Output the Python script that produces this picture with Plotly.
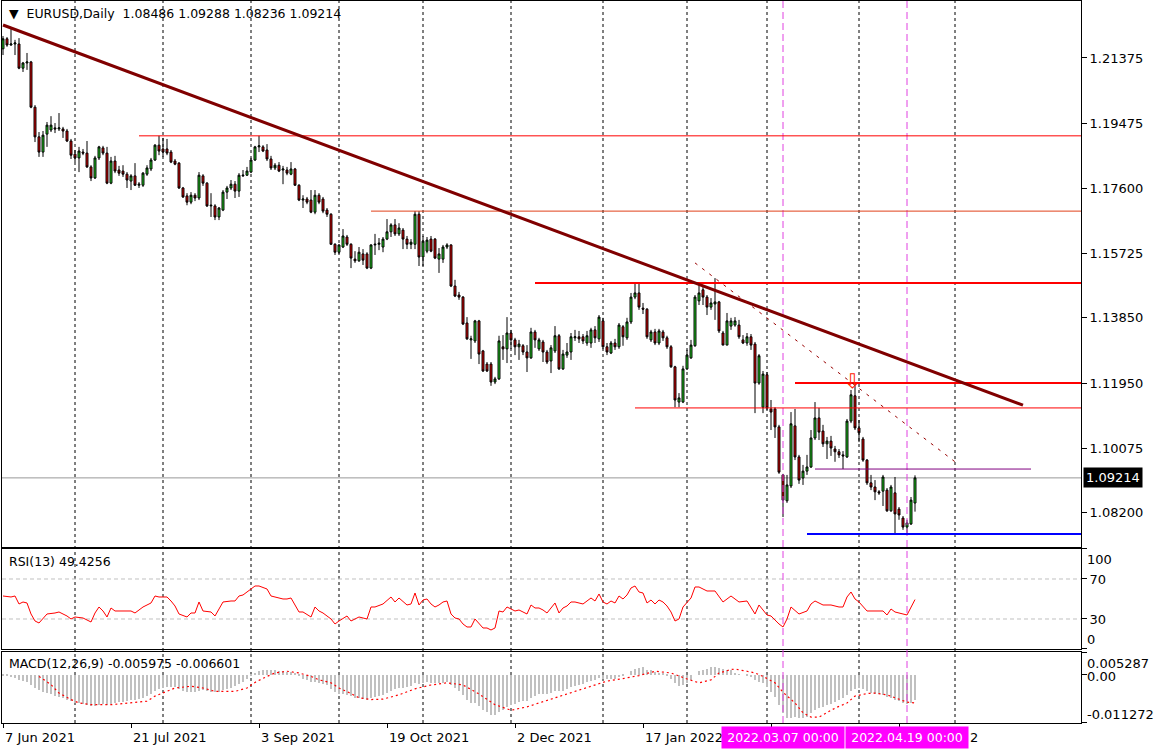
import plotly.graph_objects as go
import pandas as pd

# ---------------- price data (EURUSD daily, bar 0 = 7 Jun 2021) ----------------
open_ = [
1.2164,1.2193,1.2175,1.2178,1.2178,1.2108,1.2123,1.2126,1.1995,1.1909,
1.1865,1.1917,1.1929,1.1935,1.1932,1.1932,1.1926,1.1897,1.1859,1.1848,
1.1865,1.1862,1.1822,1.1790,1.1848,1.1877,1.1862,1.1775,1.1839,1.1813,
1.1810,1.1801,1.1781,1.1796,1.1769,1.1769,1.1801,1.1816,1.1842,1.1885,
1.1874,1.1874,1.1865,1.1839,1.1833,1.1761,1.1738,1.1720,1.1740,1.1732,
1.1796,1.1775,1.1709,1.1709,1.1677,1.1697,1.1749,1.1761,1.1772,1.1752,
1.1796,1.1798,1.1807,1.1842,1.1880,1.1880,1.1871,1.1845,1.1819,1.1827,
1.1813,1.1813,1.1801,1.1816,1.1769,1.1726,1.1729,1.1726,1.1691,1.1740,
1.1729,1.1697,1.1685,1.1598,1.1575,1.1590,1.1619,1.1598,1.1555,1.1550,
1.1570,1.1570,1.1529,1.1596,1.1598,1.1590,1.1613,1.1634,1.1654,1.1628,
1.1639,1.1613,1.1598,1.1598,1.1685,1.1561,1.1578,1.1613,1.1613,1.1555,
1.1555,1.1590,1.1596,1.1477,1.1451,1.1445,1.1370,1.1321,1.1318,1.1376,
1.1289,1.1251,1.1251,1.1199,1.1208,1.1301,1.1295,1.1341,1.1321,1.1301,
1.1304,1.1286,1.1269,1.1344,1.1295,1.1315,1.1286,1.1260,1.1289,1.1333,
1.1237,1.1277,1.1286,1.1327,1.1330,1.1330,1.1312,1.1312,1.1350,1.1324,
1.1376,1.1301,1.1283,1.1312,1.1301,1.1359,1.1327,1.1373,1.1445,1.1457,
1.1413,1.1410,1.1321,1.1344,1.1312,1.1344,1.1327,1.1301,1.1243,1.1141,
1.1141,1.1237,1.1269,1.1304,1.1434,1.1466,1.1445,1.1416,1.1425,1.1431,
1.1341,1.1306,1.1361,1.1364,1.1364,1.1321,1.1312,1.1330,1.1309,1.1196,
1.1126,1.1220,1.1121,1.1121,1.1069,1.0930,1.0855,1.0898,1.1072,1.0982,
1.0921,1.0941,1.0953,1.1037,1.1095,1.1057,1.1020,1.1028,1.1005,1.0997,
1.0988,1.0982,1.1086,1.1159,1.1066,1.1034,1.0973,1.0907,1.0895,1.0881,
1.0883,1.0886,1.0826,1.0878,1.0831,1.0805,1.0779,1.0788,1.08486]

high_ = [
1.2201,1.2198,1.2221,1.2190,1.2195,1.2126,1.2152,1.2129,1.2001,1.1923,
1.1926,1.1952,1.1969,1.1949,1.1978,1.1938,1.1932,1.1903,1.1871,1.1880,
1.1874,1.1897,1.1827,1.1854,1.1883,1.1883,1.1880,1.1851,1.1854,1.1825,
1.1827,1.1807,1.1801,1.1833,1.1778,1.1807,1.1827,1.1848,1.1888,1.1912,
1.1906,1.1903,1.1871,1.1845,1.1836,1.1764,1.1746,1.1749,1.1746,1.1807,
1.1801,1.1778,1.1746,1.1714,1.1706,1.1755,1.1767,1.1784,1.1781,1.1804,
1.1813,1.1822,1.1848,1.1883,1.1912,1.1885,1.1888,1.1854,1.1833,1.1836,
1.1825,1.1822,1.1836,1.1819,1.1772,1.1740,1.1735,1.1755,1.1755,1.1746,
1.1735,1.1703,1.1688,1.1601,1.1598,1.1642,1.1625,1.1601,1.1578,1.1590,
1.1584,1.1575,1.1598,1.1628,1.1616,1.1619,1.1671,1.1659,1.1671,1.1659,
1.1645,1.1622,1.1613,1.1694,1.1694,1.1622,1.1619,1.1622,1.1616,1.1587,
1.1596,1.1601,1.1598,1.1495,1.1460,1.1448,1.1387,1.1333,1.1379,1.1379,
1.1292,1.1257,1.1257,1.1214,1.1333,1.1335,1.1387,1.1350,1.1327,1.1321,
1.1309,1.1306,1.1356,1.1350,1.1327,1.1321,1.1292,1.1306,1.1361,1.1338,
1.1292,1.1312,1.1341,1.1350,1.1347,1.1338,1.1347,1.1356,1.1361,1.1393,
1.1385,1.1312,1.1318,1.1324,1.1370,1.1364,1.1385,1.1457,1.1486,1.1486,
1.1428,1.1413,1.1350,1.1353,1.1353,1.1350,1.1333,1.1306,1.1246,1.1167,
1.1246,1.1292,1.1321,1.1451,1.1486,1.1474,1.1451,1.1442,1.1500,1.1434,
1.1347,1.1399,1.1385,1.1387,1.1379,1.1335,1.1341,1.1338,1.1315,1.1280,
1.1231,1.1228,1.1147,1.1126,1.1075,1.0933,1.0930,1.1112,1.1121,1.0988,
1.0959,1.0988,1.1060,1.1141,1.1124,1.1075,1.1040,1.1043,1.1014,1.1005,
1.0999,1.1092,1.1176,1.1191,1.1089,1.1040,1.0976,1.0930,1.0915,1.0886,
1.0930,1.0892,1.0901,1.0924,1.0837,1.0811,1.0800,1.0866,1.09288]

low_ = [
1.2146,1.2170,1.2173,1.2146,1.2105,1.2097,1.2103,1.1992,1.1894,1.1851,
1.1851,1.1880,1.1923,1.1920,1.1926,1.1906,1.1894,1.1845,1.1836,1.1807,
1.1856,1.1819,1.1781,1.1787,1.1842,1.1856,1.1772,1.1772,1.1804,1.1796,
1.1793,1.1761,1.1755,1.1767,1.1761,1.1764,1.1796,1.1810,1.1839,1.1856,
1.1851,1.1856,1.1833,1.1827,1.1758,1.1732,1.1711,1.1714,1.1723,1.1726,
1.1767,1.1706,1.1677,1.1668,1.1668,1.1694,1.1729,1.1755,1.1732,1.1735,
1.1793,1.1796,1.1804,1.1839,1.1865,1.1865,1.1839,1.1813,1.1813,1.1807,
1.1772,1.1798,1.1798,1.1767,1.1723,1.1703,1.1714,1.1688,1.1685,1.1714,
1.1688,1.1677,1.1596,1.1567,1.1570,1.1587,1.1593,1.1529,1.1544,1.1547,
1.1538,1.1526,1.1526,1.1567,1.1581,1.1575,1.1610,1.1619,1.1622,1.1622,
1.1584,1.1584,1.1584,1.1584,1.1535,1.1535,1.1572,1.1575,1.1555,1.1515,
1.1544,1.1584,1.1474,1.1445,1.1437,1.1364,1.1321,1.1266,1.1312,1.1251,
1.1228,1.1228,1.1188,1.1193,1.1205,1.1263,1.1254,1.1295,1.1277,1.1263,
1.1277,1.1228,1.1266,1.1298,1.1289,1.1257,1.1251,1.1225,1.1283,1.1234,
1.1234,1.1269,1.1263,1.1318,1.1312,1.1309,1.1304,1.1298,1.1312,1.1315,
1.1295,1.1277,1.1280,1.1292,1.1295,1.1304,1.1321,1.1367,1.1439,1.1408,
1.1396,1.1324,1.1315,1.1306,1.1306,1.1318,1.1295,1.1240,1.1126,1.1126,
1.1138,1.1234,1.1266,1.1301,1.1422,1.1422,1.1393,1.1408,1.1379,1.1341,
1.1306,1.1306,1.1350,1.1359,1.1324,1.1309,1.1304,1.1292,1.1109,1.1191,
1.1109,1.1118,1.1060,1.1037,1.0933,1.0808,1.0849,1.0892,1.0973,1.0904,
1.0901,1.0930,1.0950,1.1031,1.1031,1.1011,1.0976,1.0985,1.0968,1.0979,
1.0947,1.0979,1.1080,1.1060,1.1025,1.0968,1.0901,1.0886,1.0857,1.0872,
1.0840,1.0823,1.0823,1.0759,1.0800,1.0771,1.0762,1.0785,1.08236]

close_ = [
1.2193,1.2175,1.2178,1.2181,1.2108,1.2123,1.2126,1.1995,1.1909,1.1865,
1.1914,1.1943,1.1943,1.1932,1.1935,1.1926,1.1897,1.1856,1.1848,1.1868,
1.1862,1.1822,1.1790,1.1848,1.1880,1.1862,1.1775,1.1839,1.1810,1.1804,
1.1801,1.1784,1.1796,1.1769,1.1772,1.1804,1.1819,1.1842,1.1885,1.1868,
1.1865,1.1862,1.1836,1.1830,1.1761,1.1735,1.1720,1.1740,1.1732,1.1798,
1.1775,1.1709,1.1711,1.1677,1.1703,1.1749,1.1761,1.1772,1.1752,1.1798,
1.1798,1.1810,1.1842,1.1880,1.1883,1.1868,1.1845,1.1819,1.1827,1.1810,
1.1816,1.1804,1.1816,1.1769,1.1726,1.1729,1.1720,1.1691,1.1740,1.1720,
1.1694,1.1685,1.1598,1.1575,1.1596,1.1622,1.1598,1.1558,1.1550,1.1575,
1.1552,1.1529,1.1596,1.1598,1.1601,1.1613,1.1634,1.1654,1.1628,1.1645,
1.1613,1.1598,1.1604,1.1685,1.1561,1.1607,1.1610,1.1578,1.1558,1.1570,
1.1590,1.1596,1.1477,1.1448,1.1445,1.1367,1.1324,1.1324,1.1376,1.1280,
1.1231,1.1231,1.1199,1.1208,1.1318,1.1295,1.1341,1.1321,1.1301,1.1309,
1.1286,1.1269,1.1344,1.1321,1.1321,1.1286,1.1257,1.1298,1.1333,1.1237,
1.1280,1.1286,1.1330,1.1330,1.1324,1.1318,1.1333,1.1350,1.1327,1.1387,
1.1301,1.1286,1.1312,1.1301,1.1364,1.1330,1.1373,1.1445,1.1457,1.1416,
1.1410,1.1330,1.1344,1.1312,1.1347,1.1327,1.1301,1.1243,1.1147,1.1153,
1.1237,1.1277,1.1306,1.1445,1.1457,1.1445,1.1416,1.1428,1.1431,1.1347,
1.1306,1.1376,1.1376,1.1376,1.1330,1.1312,1.1330,1.1306,1.1196,1.1275,
1.1222,1.1124,1.1112,1.1069,1.0938,1.0857,1.0901,1.1078,1.0982,1.0915,
1.0941,1.0953,1.1037,1.1095,1.1054,1.1020,1.1028,1.1008,1.0997,1.0988,
1.0985,1.1086,1.1162,1.1066,1.1052,1.0973,1.0907,1.0895,1.0881,1.0878,
1.0924,1.0826,1.0895,1.0817,1.0814,1.0779,1.0791,1.0857,1.09214]

# ---------------- RSI(13) readings (bar index, value) ----------------
rsi_bar = [0,2,3,4,5,6,7,8,9,10,11,13,14,16,17,18,20,21,22,23,24,25,26,27,28,31,32,33,35,37,
           38,39,41,42,43,44,46,47,48,49,50,52,53,54,55,57,58,59,60,61,63,64,66,67,68,70,71,72,74,75,
           77,78,79,80,82,83,84,86,87,88,89,91,92,93,95,97,98,99,
           100,101,102,103,104,105,106,107,108,109,110,111,112,113,114,115,116,117,118,119,
           120,121,122,123,124,125,126,127,128,129,130,131,132,133,134,135,136,137,138,139,
           140,141,142,143,144,145,146,147,148,149,150,151,152,153,154,155,156,157,158,159,
           160,161,162,163,164,165,166,167,168,169,170,171,172,173,
           174,176,178,180,182,184,186,188,189,191,192,194,195,196,197,199,201,202,203,205,
           207,209,210,211,212,213,214,216,218,220,221,222,223,225,226,228]
rsi_val = [53,52,53,45,47,46,35,28,26,31,35,36,37,33,30,32,31,29,27,36,42,38,32,41,38,38,38,36,42,46,
           53,52,52,48,43,35,32,36,36,47,38,37,33,40,47,48,48,53,54,57,63,63,60,53,52,50,50,51,37,37,
           32,42,38,36,30,25,28,33,28,30,32,30,42,42,45,52,47,51,
           47,44,45,56,44,49,50,45,42,44,47,48,35,31,30,25,22,22,30,25,
           21,21,19,21,38,37,42,40,38,39,37,35,44,41,41,39,36,41,46,36,
           41,43,47,47,46,45,48,51,48,55,47,45,48,46,53,50,54,61,63,57,
           56,46,49,45,49,47,43,37,28,30,42,47,51,62,
           62,58,58,47,53,47,48,35,44,34,33,25,22,30,42,35,38,45,48,44,
           44,42,42,52,57,50,47,38,38,38,34,40,37,35,34,49.4256]

# ---------------- MACD(12,26,9) main values per bar (histogram) ----------------
macd_main = [
-0.0003,-0.0004,-0.0006,-0.0008,-0.0012,-0.0015,-0.0018,-0.0024,-0.0030,-0.0036,
-0.0040,-0.0043,-0.0046,-0.0049,-0.0051,-0.0054,-0.0058,-0.0062,-0.0065,-0.0066,
-0.0068,-0.0071,-0.0074,-0.0073,-0.0070,-0.0069,-0.0071,-0.0068,-0.0066,-0.0064,
-0.0063,-0.0062,-0.0060,-0.0059,-0.0057,-0.0054,-0.0050,-0.0045,-0.0038,-0.0033,
-0.0030,-0.0028,-0.0028,-0.0029,-0.0033,-0.0037,-0.0040,-0.0041,-0.0041,-0.0037,
-0.0036,-0.0038,-0.0040,-0.0041,-0.0040,-0.0036,-0.0033,-0.0030,-0.0027,-0.0022,
-0.0017,-0.0010,-0.0003,0.0005,0.0009,0.0011,0.0011,0.0010,0.0010,0.0009,
0.0008,0.0007,0.0006,0.0002,-0.0004,-0.0009,-0.0012,-0.0017,-0.0017,-0.0019,
-0.0022,-0.0025,-0.0033,-0.0040,-0.0044,-0.0045,-0.0047,-0.0050,-0.0054,-0.0055,
-0.0056,-0.0058,-0.0055,-0.0052,-0.0050,-0.0047,-0.0042,-0.0037,-0.0034,-0.0030,
-0.0030,-0.0029,-0.0027,-0.0020,-0.0022,-0.0020,-0.0018,-0.0019,-0.0020,-0.0020,
-0.0019,-0.0017,-0.0025,-0.0032,-0.0038,-0.0048,-0.0058,-0.0065,-0.0066,-0.0074,
-0.0082,-0.0087,-0.0093,-0.0095,-0.0088,-0.0083,-0.0076,-0.0071,-0.0068,-0.0064,
-0.0062,-0.0061,-0.0054,-0.0050,-0.0046,-0.0045,-0.0045,-0.0042,-0.0037,-0.0039,
-0.0037,-0.0034,-0.0029,-0.0026,-0.0023,-0.0021,-0.0018,-0.0015,-0.0013,-0.0008,
-0.0009,-0.0010,-0.0009,-0.0009,-0.0005,-0.0004,0.0000,0.0008,0.0014,0.0016,
0.0017,0.0012,0.0010,0.0006,0.0005,0.0002,-0.0002,-0.0009,-0.0020,-0.0027,
-0.0025,-0.0020,-0.0013,0.0000,0.0008,0.0010,0.0014,0.0017,0.0018,0.0016,
0.0013,0.0012,0.0011,0.0004,0.0001,0.0000,-0.0002,-0.0006,-0.0012,-0.0018,
-0.0020,-0.0028,-0.0040,-0.0052,-0.0070,-0.0090,-0.0100,-0.0101,-0.0098,-0.0101,
-0.0100,-0.0098,-0.0090,-0.0082,-0.0078,-0.0075,-0.0070,-0.0068,-0.0064,-0.0058,
-0.0055,-0.0048,-0.0038,-0.0033,-0.0030,-0.0033,-0.0038,-0.0042,-0.0045,-0.0046,
-0.0048,-0.0052,-0.0055,-0.0058,-0.0062,-0.0065,-0.0068,-0.0065,-0.005975]

# MACD signal line readings (bar index, value)
sig_bar = [9,12,14,17,19,22,27,29,33,36,38,41,43,47,50,53,58,61,63,66,68,71,74,77,79,82,84,87,89,92,95,99,
           103,107,111,115,119,123,127,131,135,139,143,147,151,155,159,163,167,171,
           174,177,179,182,183,186,188,190,193,195,198,200,202,204,206,208,211,213,216,218,221,223,226,228]
sig_val = [-0.0004,-0.0023,-0.0043,-0.0058,-0.0066,-0.0070,-0.0070,-0.0068,-0.0064,-0.0062,-0.0050,-0.0039,
           -0.0031,-0.0027,-0.0031,-0.0039,-0.0039,-0.0031,-0.0018,-0.0004,0.0004,0.0008,0.0004,-0.0004,
           -0.0012,-0.0019,-0.0031,-0.0044,-0.0054,-0.0058,-0.0057,-0.0047,
           -0.0033,-0.0024,-0.0019,-0.0024,-0.0045,-0.0070,-0.0083,-0.0075,-0.0063,-0.0050,-0.0038,-0.0027,
           -0.0015,-0.0009,-0.0002,0.0008,0.0004,-0.0010,
           -0.0019,-0.0012,0.0004,0.0012,0.0013,0.0008,0.0004,-0.0004,-0.0019,-0.0041,-0.0066,-0.0089,
           -0.0099,-0.0099,-0.0089,-0.0078,-0.0066,-0.0050,-0.0044,-0.0043,-0.0047,-0.0054,-0.0064,-0.006601]

# ---------------- chart objects ----------------
price_ticks = [1.21375, 1.19475, 1.17600, 1.15725, 1.13850, 1.11950, 1.10075, 1.08200]
price_tick_text = ["1.21375", "1.19475", "1.17600", "1.15725", "1.13850", "1.11950", "1.10075", "1.08200"]

date_tick_bars = [0, 32, 64, 96, 128, 160, 192, 224]
date_label_bars = [0, 32, 64, 96, 128, 160]
date_labels = ["7 Jun 2021", "21 Jul 2021", "3 Sep 2021", "19 Oct 2021", "2 Dec 2021", "17 Jan 2022"]
hidden_label_tail = "2"          # last character of the label hidden under the second marker box
month_sep_bars = [18, 40, 62, 84, 105, 127, 150, 171, 191, 214, 238]
marker_bars = [195, 226]
marker_labels = ["2022.03.07 00:00", "2022.04.19 00:00"]

level_prices = [1.1912, 1.1694, 1.1486, 1.1196, 1.1124, 1.0759]
level_start = [34, 92, 133, 198, 158, 201]
purple_level = (203, 257, 1.0947)
trend_main = [(0, 1.2233), (255, 1.1132)]
trend_dash = [(173, 1.1544), (238, 1.0968)]
arrow_point = (212.25, 1.1203)
last_price = 1.09214
rsi_levels = [70, 30]
title_text = "EURUSD,Daily"
ohlc_text = "1.08486 1.09288 1.08236 1.09214"

n = len(close_)
bars = list(range(n))
dates = pd.bdate_range("2021-06-07", periods=n)

X_MIN, X_MAX = -0.25, 269.5
FONT = "DejaVu Sans, Verdana, sans-serif"

fig = go.Figure()
fig.add_trace(go.Candlestick(
    x=bars, open=open_, high=high_, low=low_, close=close_,
    text=[d.strftime("%Y.%m.%d") for d in dates], hoverinfo="text+y",
    increasing=dict(fillcolor="#22dd22", line=dict(color="black", width=1)),
    decreasing=dict(fillcolor="#ee0000", line=dict(color="black", width=1)),
    whiskerwidth=0, xaxis="x", yaxis="y", showlegend=False))

fig.add_trace(go.Scatter(x=rsi_bar, y=rsi_val, mode="lines",
                         line=dict(color="#ff0000", width=1),
                         xaxis="x2", yaxis="y2", showlegend=False))

fig.add_trace(go.Bar(x=bars, y=macd_main, width=0.3,
                     marker=dict(color="#c0c0c0", line=dict(width=0)),
                     xaxis="x3", yaxis="y3", showlegend=False))
fig.add_trace(go.Scatter(x=sig_bar, y=sig_val, mode="lines",
                         line=dict(color="#ff0000", width=1.2, dash="2px,3px"),
                         xaxis="x3", yaxis="y3", showlegend=False))

shapes = []
for b in month_sep_bars:
    shapes.append(dict(type="line", xref="x", yref="paper", x0=b, x1=b, y0=0, y1=1,
                       line=dict(color="black", width=1, dash="3px,3px"), layer="below"))
for b in marker_bars:
    shapes.append(dict(type="line", xref="x", yref="paper", x0=b, x1=b, y0=0, y1=1,
                       line=dict(color="#e040e0", width=1, dash="7px,4px"), layer="above"))
level_colors = ["#ff0000", "#e0401a", "#ff0000", "#ff0000", "#ff0000", "#0000ff"]
level_widths = [1, 1, 2, 2, 1, 2]
for p, s, c, w in zip(level_prices, level_start, level_colors, level_widths):
    shapes.append(dict(type="line", xref="x", yref="y", x0=s, x1=X_MAX, y0=p, y1=p,
                       line=dict(color=c, width=w)))
shapes.append(dict(type="line", xref="x", yref="y", x0=purple_level[0], x1=purple_level[1],
                   y0=purple_level[2], y1=purple_level[2], line=dict(color="#800080", width=1)))
shapes.append(dict(type="line", xref="x", yref="y", x0=X_MIN, x1=X_MAX, y0=last_price, y1=last_price,
                   line=dict(color="#999999", width=1), layer="below"))
shapes.append(dict(type="line", xref="x", yref="y",
                   x0=trend_main[0][0], y0=trend_main[0][1], x1=trend_main[1][0], y1=trend_main[1][1],
                   line=dict(color="#800000", width=3)))
shapes.append(dict(type="line", xref="x", yref="y",
                   x0=trend_dash[0][0], y0=trend_dash[0][1], x1=trend_dash[1][0], y1=trend_dash[1][1],
                   line=dict(color="#990000", width=1, dash="3px,6px")))
for lv in rsi_levels:
    shapes.append(dict(type="line", xref="x2 domain", yref="y2", x0=0, x1=1, y0=lv, y1=lv,
                       line=dict(color="#c0c0c0", width=1, dash="4px,3px"), layer="below"))

annotations = []
annotations.append(dict(xref="paper", yref="paper", x=0.005, y=0.983, xanchor="left", yanchor="middle",
                        text="▼\u00a0\u00a0" + title_text + "\u00a0\u00a0" + ohlc_text, showarrow=False,
                        font=dict(family=FONT, size=12.5, color="black")))
annotations.append(dict(xref="paper", yref="paper", x=0.005, y=0.223, xanchor="left", yanchor="middle",
                        text="RSI(13) 49.4256", showarrow=False, font=dict(family=FONT, size=12.5, color="black")))
annotations.append(dict(xref="paper", yref="paper", x=0.005, y=0.083, xanchor="left", yanchor="middle",
                        text="MACD(12,26,9) -0.005975 -0.006601", showarrow=False,
                        font=dict(family=FONT, size=12.5, color="black")))
# price box
annotations.append(dict(xref="paper", yref="y", x=1, y=last_price, xanchor="left", yanchor="middle",
                        xshift=2, text="1.09214", showarrow=False, bgcolor="black", borderpad=2,
                        font=dict(family=FONT, size=13, color="white")))
# RSI / MACD side labels
side = [("100", 0.2258), ("0", 0.115), ("0.005287", 0.0831), ("0.00", 0.064), ("-0.011272", 0.0111)]
for t, yy in side:
    annotations.append(dict(xref="paper", yref="paper", x=1, y=yy, xanchor="left", yanchor="middle",
                            xshift=4, text=t, showarrow=False, font=dict(family=FONT, size=13, color="black")))
# date labels
for b, t in zip(date_label_bars, date_labels):
    annotations.append(dict(xref="x3", yref="paper", x=b, y=-0.0201, xanchor="left", yanchor="middle",
                            text=t, showarrow=False, font=dict(family=FONT, size=13, color="black")))
for b, t in zip(marker_bars, marker_labels):
    annotations.append(dict(xref="x3", yref="paper", x=b, y=-0.0201, xanchor="center", yanchor="middle",
                            text=t, showarrow=False, bgcolor="#ff00ff", borderpad=2, width=118, height=17,
                            font=dict(family=FONT, size=12.5, color="white")))
annotations.append(dict(xref="x3", yref="paper", x=marker_bars[1], y=-0.0201, xanchor="left",
                        yanchor="middle", xshift=61, text=hidden_label_tail, showarrow=False,
                        font=dict(family=FONT, size=13, color="black")))
# MT4 sell arrow
annotations.append(dict(xref="x", yref="y", x=arrow_point[0], y=arrow_point[1], text="⇩",
                        showarrow=False, font=dict(family="DejaVu Sans", size=20, color="#ff2000")))

axis_common = dict(showgrid=False, zeroline=False, showline=True, linecolor="black", linewidth=1,
                   mirror=True)

fig.update_layout(
    width=1154, height=751,
    margin=dict(l=2, r=73, t=1, b=28),
    paper_bgcolor="white", plot_bgcolor="white",
    showlegend=False, bargap=0, hovermode="x",
    font=dict(family=FONT, size=13, color="black"),
    xaxis=dict(domain=[0, 1], range=[X_MIN, X_MAX], anchor="y", showticklabels=False,
               rangeslider=dict(visible=False), ticks="", **axis_common),
    xaxis2=dict(domain=[0, 1], range=[X_MIN, X_MAX], anchor="y2", matches="x",
                showticklabels=False, ticks="", **axis_common),
    xaxis3=dict(domain=[0, 1], range=[X_MIN, X_MAX], anchor="y3", matches="x",
                showticklabels=False, ticks="outside", ticklen=4, tickcolor="black",
                tickmode="array", tickvals=date_tick_bars, **axis_common),
    yaxis=dict(domain=[0.2438, 1.0], range=[1.07213, 1.23025], side="right", anchor="x",
               tickmode="array", tickvals=price_ticks, ticktext=price_tick_text,
               ticks="outside", ticklen=5, tickcolor="black", **axis_common),
    yaxis2=dict(domain=[0.1025, 0.2410], range=[0, 100], side="right", anchor="x2",
                tickmode="array", tickvals=[0, 30, 70, 100], ticktext=["", "30", "70", ""],
                ticks="outside", ticklen=5, tickcolor="black", **axis_common),
    yaxis3=dict(domain=[0.0, 0.0983], range=[-0.011272, 0.005287], side="right", anchor="x3",
                tickmode="array", tickvals=[-0.011272, 0, 0.005287], showticklabels=False,
                ticks="outside", ticklen=5, tickcolor="black", **axis_common),
    shapes=shapes, annotations=annotations,
)

fig.write_html("out.html", config={"displayModeBar": False},
               post_script="document.body.style.margin='0px';document.body.style.padding='0px';")
